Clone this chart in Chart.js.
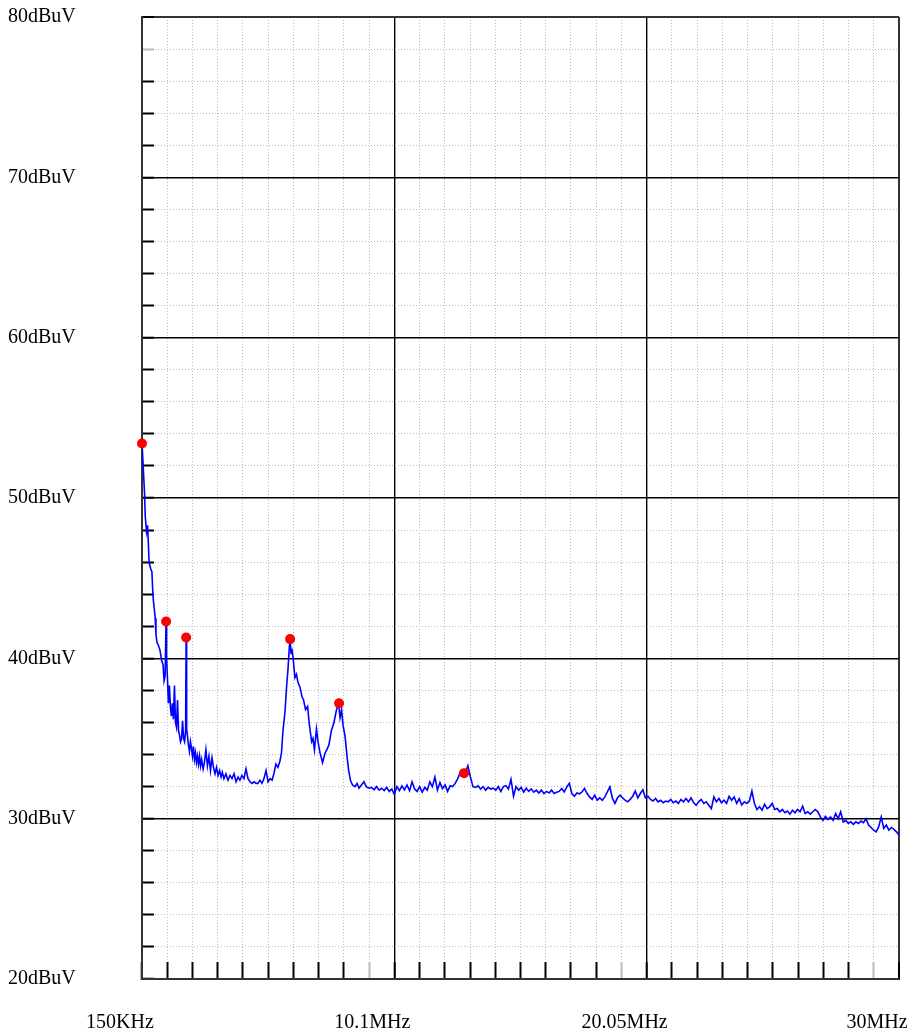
<!DOCTYPE html>
<html>
<head>
<meta charset="utf-8">
<script src="https://cdn.jsdelivr.net/npm/chart.js@4.4.1/dist/chart.umd.min.js"></script>
<style>
  html, body { margin: 0; padding: 0; background: #fff; overflow: hidden; }
  #wrap { width: 916px; height: 1034px; position: relative; }
</style>
</head>
<body>
<div id="wrap"><canvas id="espectro"></canvas></div>
<script>
// barrido medido (MHz / dBuV)
const freqMHz = [
  0.15, 0.19, 0.25, 0.28, 0.33, 0.37, 0.40, 0.43, 0.49, 0.54,
  0.58, 0.60, 0.64, 0.67, 0.70, 0.74, 0.80, 0.86, 0.92, 0.98,
  1.02, 1.06, 1.10, 1.12, 1.16, 1.19, 1.23, 1.27, 1.31, 1.35,
  1.39, 1.43, 1.47, 1.51, 1.55, 1.59, 1.63, 1.67, 1.71, 1.75,
  1.79, 1.83, 1.87, 1.89, 1.91, 1.94, 1.98, 2.02, 2.06, 2.10,
  2.14, 2.18, 2.22, 2.26, 2.30, 2.34, 2.38, 2.42, 2.46, 2.50,
  2.56, 2.61, 2.67, 2.73, 2.79, 2.85, 2.91, 2.97, 3.03, 3.09,
  3.15, 3.21, 3.27, 3.32, 3.38, 3.46, 3.54, 3.62, 3.70, 3.78,
  3.86, 3.94, 4.01, 4.09, 4.17, 4.25, 4.33, 4.41, 4.49, 4.57,
  4.65,
  4.72, 4.80, 4.88, 4.96, 5.04, 5.12, 5.20, 5.28, 5.35, 5.43,
  5.51, 5.59, 5.65, 5.71, 5.79, 5.85, 5.91, 5.96, 5.99, 6.03,
  6.06, 6.11, 6.18, 6.24, 6.30, 6.38, 6.46, 6.52, 6.60, 6.68,
  6.74, 6.78, 6.84, 6.89, 6.95, 7.03, 7.09, 7.17, 7.27, 7.37,
  7.44, 7.52, 7.62, 7.72, 7.82, 7.90, 7.96, 8.02, 8.08, 8.16,
  8.24, 8.30, 8.37, 8.45, 8.55, 8.63, 8.71, 8.80, 8.90,
  9.0, 9.1, 9.2, 9.3, 9.4, 9.5, 9.6, 9.7, 9.8, 9.9,
  10.0, 10.1, 10.2, 10.3, 10.4, 10.5, 10.6, 10.7, 10.8, 10.9,
  11.0, 11.1, 11.2, 11.3, 11.4, 11.5, 11.6, 11.7, 11.8, 11.9,
  12.0, 12.1, 12.2, 12.3, 12.4, 12.5, 12.6, 12.7, 12.8, 12.9,
  13.0, 13.1, 13.2, 13.3, 13.4, 13.5, 13.6, 13.7, 13.8, 13.9,
  14.0, 14.1, 14.2, 14.3, 14.4, 14.5, 14.6, 14.7, 14.8, 14.9,
  15.0, 15.1, 15.2, 15.3, 15.4, 15.5, 15.6, 15.7, 15.8, 15.9,
  16.0, 16.1, 16.2, 16.3, 16.4, 16.5, 16.6, 16.7, 16.8, 16.9,
  17.0, 17.1, 17.2, 17.3, 17.4, 17.5, 17.6, 17.7, 17.8, 17.9,
  18.0, 18.1, 18.2, 18.3, 18.4, 18.5, 18.6, 18.7, 18.8, 18.9,
  19.0, 19.1, 19.2, 19.3, 19.4, 19.5, 19.6, 19.7, 19.8, 19.9,
  20.0, 20.1, 20.2, 20.3, 20.4, 20.5, 20.6, 20.7, 20.8, 20.9,
  21.0, 21.1, 21.2, 21.3, 21.4, 21.5, 21.6, 21.7, 21.8, 21.9,
  22.0, 22.1, 22.2, 22.3, 22.4, 22.5, 22.6, 22.7, 22.8, 22.9,
  23.0, 23.1, 23.2, 23.3, 23.4, 23.5, 23.6, 23.7, 23.8, 23.9,
  24.0, 24.1, 24.2, 24.3, 24.4, 24.5, 24.6, 24.7, 24.8, 24.9,
  25.0, 25.1, 25.2, 25.3, 25.4, 25.5, 25.6, 25.7, 25.8, 25.9,
  26.0, 26.1, 26.2, 26.3, 26.4, 26.5, 26.6, 26.7, 26.8, 26.9,
  27.0, 27.1, 27.2, 27.3, 27.4, 27.5, 27.6, 27.7, 27.8, 27.9,
  28.0, 28.1, 28.2, 28.3, 28.4, 28.5, 28.6, 28.7, 28.8, 28.9,
  29.0, 29.1, 29.2, 29.3, 29.4, 29.5, 29.6, 29.7, 29.8, 29.9,
  30.0
];

const nivelDb = [
  53.4, 52.2, 50.3, 48.8, 47.9, 48.3, 47.2, 46.0, 45.6, 45.4,
  44.0, 43.6, 43.0, 42.5, 41.5, 41.0, 40.8, 40.5, 39.9, 39.6,
  38.6, 38.9, 42.3, 40.0, 38.5, 37.2, 38.3, 37.0, 36.4, 37.2,
  36.2, 38.3, 36.0, 35.7, 37.4, 35.5, 35.2, 34.8, 35.0, 36.1,
  35.0, 34.8, 35.5, 41.3, 35.6, 35.2, 34.6, 34.2, 34.8, 34.4,
  33.9, 34.5, 33.7, 34.1, 33.5, 33.9, 33.4, 33.9, 33.3, 33.7,
  33.1, 33.5, 34.3, 33.3, 33.9, 33.0, 33.8, 33.2, 32.8, 33.2,
  32.7, 33.0, 32.6, 32.9, 32.5, 32.8, 32.4, 32.7, 32.5, 32.8,
  32.3, 32.6, 32.4, 32.7, 32.5, 33.1, 32.5, 32.3, 32.2, 32.3,
  32.2,
  32.2, 32.4, 32.2, 32.5, 33.0, 32.3, 32.5, 32.4, 32.8, 33.4,
  33.2, 33.6, 34.1, 35.5, 36.7, 38.2, 39.4, 40.7, 41.2, 40.3,
  40.6, 40.0, 38.8, 39.0, 38.5, 38.2, 37.6, 37.4, 36.8, 37.0,
  36.0, 35.5, 34.8, 35.0, 34.3, 35.6, 34.8, 34.1, 33.5, 34.1,
  34.3, 34.6, 35.5, 36.0, 36.8, 37.2, 36.3, 36.8, 35.8, 35.1,
  33.8, 33.0, 32.4, 32.1, 32.0, 32.2, 31.9, 32.1, 32.3,
  31.98, 31.9, 31.95, 31.8, 32.0, 31.78, 31.9, 31.75, 31.95, 31.7,
  31.85, 31.5, 32.0, 31.75, 32.05, 31.8, 32.1, 31.75, 32.3, 31.85,
  31.7, 32.0, 31.65, 31.95, 31.78, 32.3, 32.0, 32.6, 31.78, 32.25,
  31.88, 32.1, 31.7, 32.05, 32.0, 32.2, 32.5, 32.9, 32.75, 32.9,
  33.3, 32.6, 32.0, 31.95, 32.05, 31.85, 32.0, 31.78, 31.95, 31.85,
  31.9, 31.78, 32.0, 31.7, 32.0, 32.05, 31.85, 32.45, 31.4, 32.0,
  31.78, 31.95, 31.65, 31.9, 31.7, 31.85, 31.65, 31.78, 31.6, 31.78,
  31.57, 31.7, 31.6, 31.78, 31.57, 31.65, 31.7, 31.88, 31.67, 31.98,
  32.2, 31.57, 31.4, 31.6, 31.55, 31.67, 31.88, 31.57, 31.36, 31.2,
  31.47, 31.15, 31.3, 31.15, 31.36, 31.67, 31.98, 31.26, 30.95, 31.3,
  31.47, 31.3, 31.15, 31.05, 31.2, 31.4, 31.72, 31.3, 31.57, 31.8,
  31.3, 31.4, 31.2, 31.1, 31.26, 31.05, 31.15, 31.0, 31.1, 31.05,
  31.2, 31.0, 31.1, 30.95, 31.2, 31.05, 31.26, 31.05, 31.3, 31.0,
  30.84, 31.05, 31.2, 30.95, 31.05, 30.84, 30.63, 31.36, 31.05, 31.26,
  31.0, 31.15, 30.95, 31.4, 31.15, 31.36, 30.95, 31.25, 30.85, 31.05,
  30.95, 31.1, 31.72, 30.95, 30.57, 30.74, 30.53, 30.9, 30.63, 30.74,
  30.95, 30.57, 30.63, 30.43, 30.57, 30.37, 30.48, 30.28, 30.53, 30.37,
  30.57, 30.43, 30.78, 30.32, 30.43, 30.28, 30.43, 30.57, 30.43, 30.11,
  29.9, 30.15, 29.95, 30.11, 29.9, 30.32, 30.0, 30.43, 29.8, 29.9,
  29.7, 29.8, 29.65, 29.8, 29.7, 29.85, 29.75, 30.0, 29.6, 29.45,
  29.28, 29.18, 29.5, 30.11, 29.39, 29.6, 29.28, 29.45, 29.33, 29.18,
  28.97
];

// picos marcados en rojo
const picoFreq = [0.15, 1.10, 1.89, 5.99, 7.92, 12.85];
const picoDb = [53.4, 42.3, 41.3, 41.2, 37.2, 32.84];

// divisiones del eje X (una cada 0.995 MHz) y sus rotulos
const xTicks = [
  0.15, 1.145, 2.14, 3.135, 4.13, 5.125, 6.12, 7.115, 8.11, 9.105,
  10.1, 11.095, 12.09, 13.085, 14.08, 15.075, 16.07, 17.065, 18.06, 19.055,
  20.05, 21.045, 22.04, 23.035, 24.03, 25.025, 26.02, 27.015, 28.01, 29.005,
  30
];
const xLabels = ['150KHz', '10.1MHz', '20.05MHz', '30MHz'];

const fuente = { family: 'Liberation Serif', size: 20 };

const ctx = document.getElementById('espectro');

const grafico = new Chart(ctx, {
  type: 'line',
  data: {
    datasets: [{
      label: 'Picos',
      data: picoFreq.map((f, i) => ({ x: f, y: picoDb[i] })),
      showLine: false,
      pointRadius: 5,
      pointBackgroundColor: '#ff0000',
      pointBorderWidth: 0,
      clip: false,
      order: 0
    }, {
      label: 'Nivel',
      data: freqMHz.map((f, i) => ({ x: f, y: nivelDb[i] })),
      borderColor: '#0000ff',
      borderWidth: 1.6,
      pointRadius: 0,
      tension: 0,
      order: 1
    }]
  },
  options: {
    responsive: true,
    maintainAspectRatio: false,
    animation: false,
    layout: { padding: { left: 8, top: 17, right: 17, bottom: 0 } },
    plugins: { legend: { display: false }, tooltip: { enabled: false } },
    scales: {
      x: {
        type: 'linear',
        min: 0.15,
        max: 30,
        afterBuildTicks: (scale) => { scale.ticks = xTicks.map(v => ({ value: v })); },
        afterFit: (scale) => { scale.height = 55; scale.paddingLeft = 0; scale.paddingRight = 0; },
        ticks: {
          autoSkip: false,
          maxRotation: 0,
          padding: 49,
          labelOffset: -22,
          color: '#000',
          font: fuente,
          callback: (v, i) => (i % 10 === 0 ? xLabels[i / 10] : '')
        },
        grid: {
          color: (c) => (c.index === 30 ? '#333' : (c.index % 10 === 0 ? '#000' : '#bbb')),
          lineWidth: (c) => (c.index === 30 ? 2 : (c.index % 10 === 0 ? 1.4 : 1)),
          tickLength: -17,
          tickWidth: 2,
          tickColor: (c) => (c.index % 10 === 9 ? '#bbb' : '#000')
        },
        border: {
          color: '#333',
          width: 2,
          dash: (c) => (c.tick && c.index % 10 !== 0 ? [1, 2] : [])
        }
      },
      y: {
        min: 20,
        max: 80,
        afterFit: (scale) => { scale.width = 134; scale.paddingTop = 0; scale.paddingBottom = 0; },
        ticks: {
          stepSize: 2,
          autoSkip: false,
          crossAlign: 'far',
          color: '#000',
          font: fuente,
          callback: (v) => (v % 10 === 0 ? v + 'dBuV' : '')
        },
        grid: {
          color: (c) => (c.tick.value === 80 ? '#333' : (c.tick.value % 10 === 0 ? '#000' : '#bbb')),
          lineWidth: (c) => (c.tick.value === 80 ? 2 : (c.tick.value % 10 === 0 ? 1.4 : 1)),
          tickLength: -12,
          tickWidth: 2,
          tickColor: (c) => (c.tick.value === 78 ? '#bbb' : '#000')
        },
        border: {
          color: '#333',
          width: 2,
          dash: (c) => (c.tick && c.tick.value % 10 !== 0 ? [1, 2] : [])
        }
      }
    }
  }
});
</script>
</body>
</html>
